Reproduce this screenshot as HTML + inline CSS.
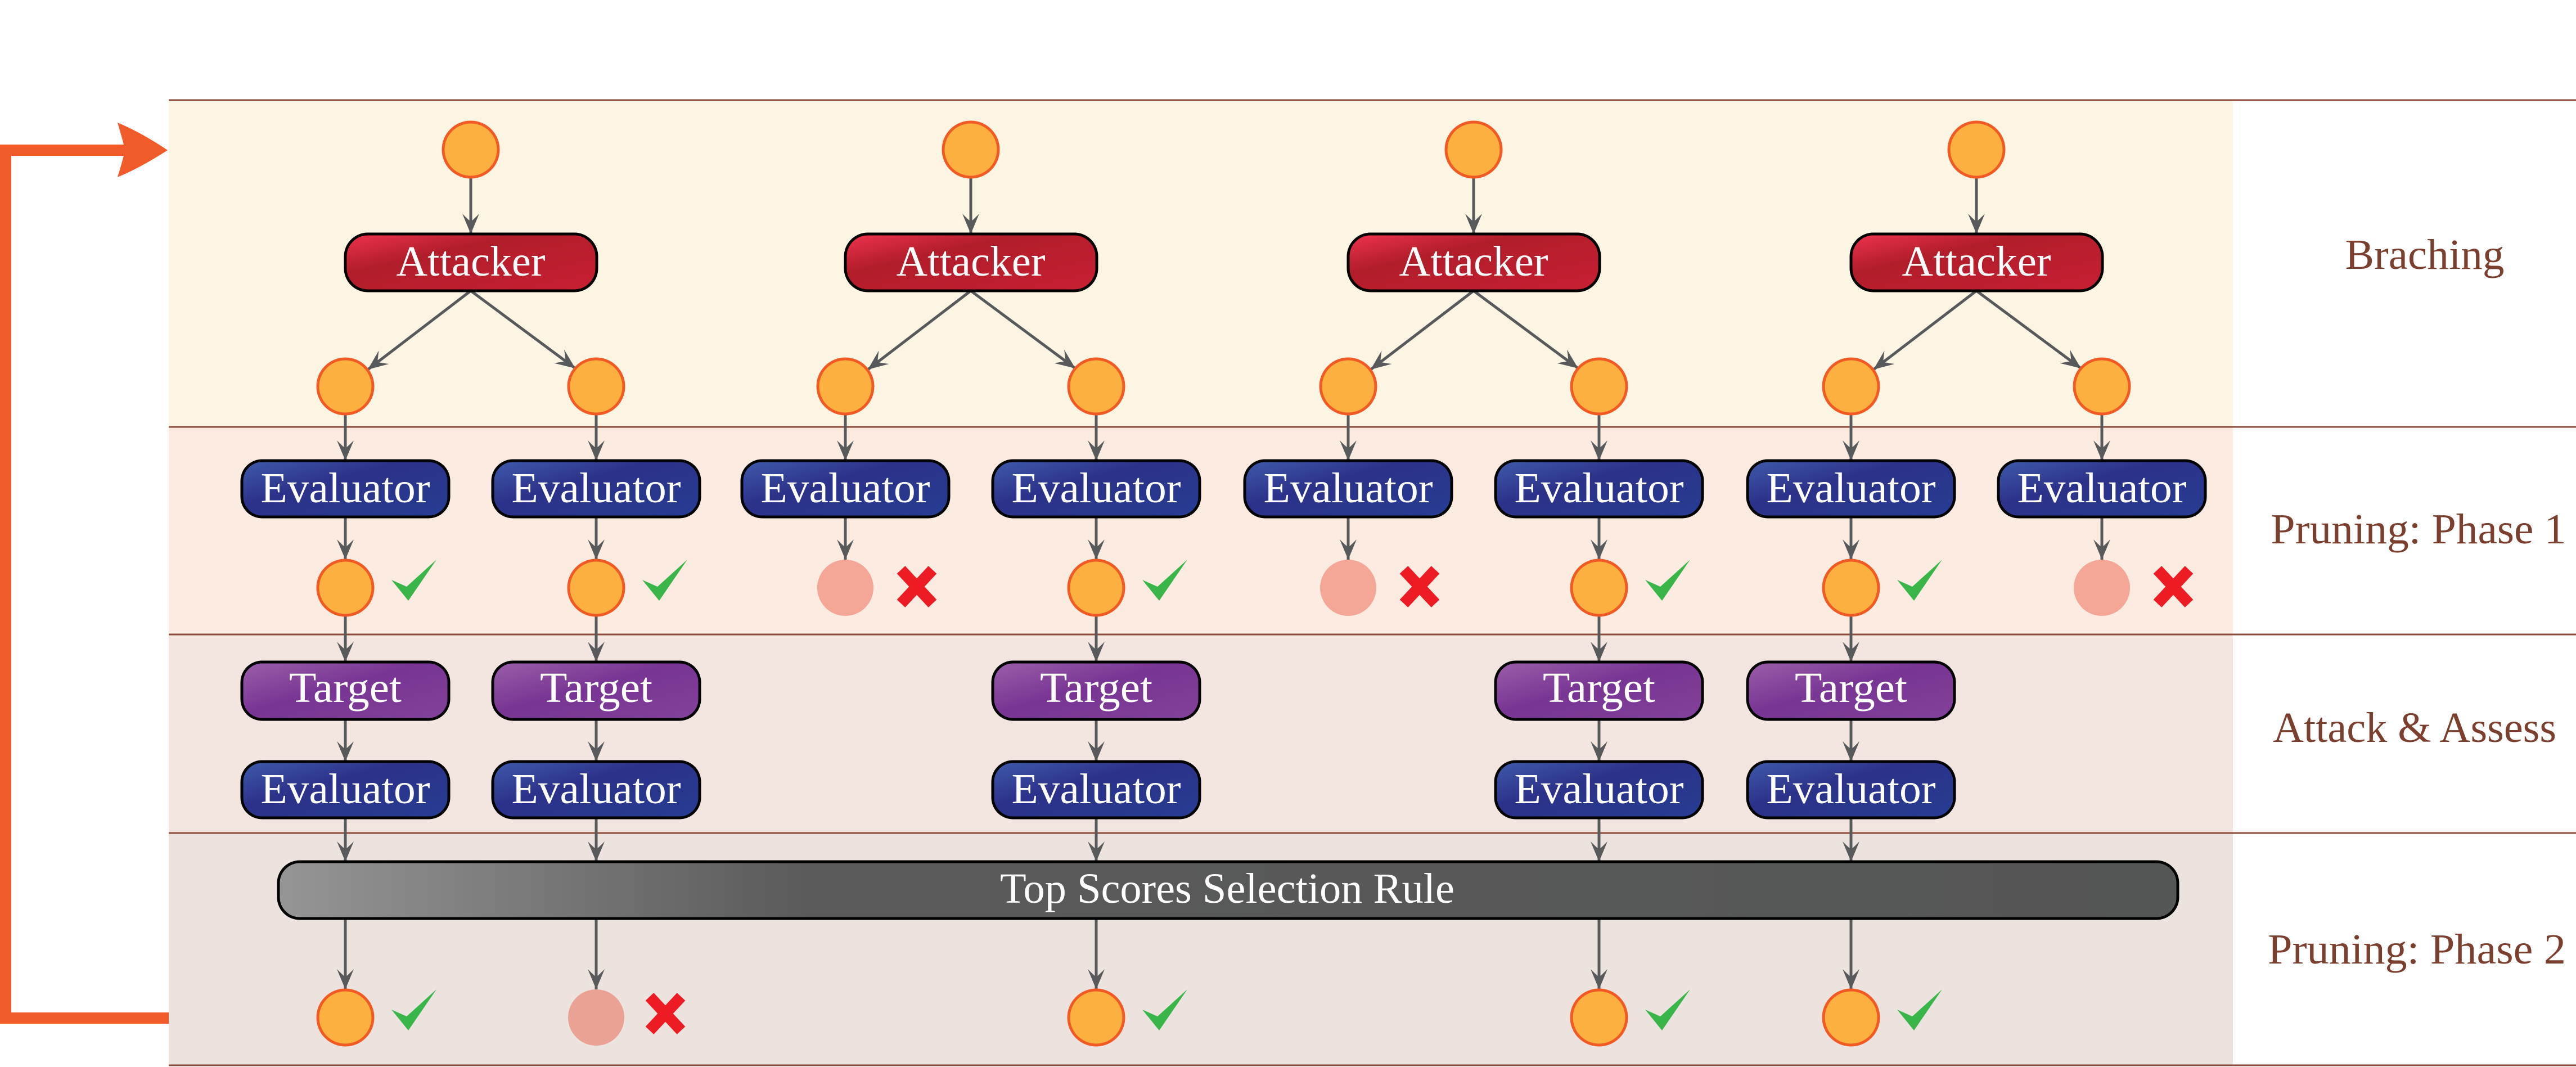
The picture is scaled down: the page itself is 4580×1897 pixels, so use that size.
<!DOCTYPE html>
<html><head><meta charset="utf-8"><style>
html,body{margin:0;padding:0;background:#fff;}
svg{display:block;}
svg text{font-family:"Liberation Serif","DejaVu Serif",serif;}
</style></head><body>
<svg width="4580" height="1897" viewBox="0 0 4580 1897" xmlns="http://www.w3.org/2000/svg">
<defs>
<linearGradient id="gR" x1="0" y1="0" x2="1" y2="1"><stop offset="0" stop-color="#ef334f"/><stop offset="0.35" stop-color="#b11d2a"/><stop offset="1" stop-color="#c81f33"/></linearGradient>
<linearGradient id="gB" x1="0" y1="0" x2="1" y2="1"><stop offset="0" stop-color="#3f5bab"/><stop offset="0.4" stop-color="#2c3189"/><stop offset="1" stop-color="#263d93"/></linearGradient>
<linearGradient id="gP" x1="0" y1="0" x2="1" y2="1"><stop offset="0" stop-color="#9b5fa9"/><stop offset="0.45" stop-color="#783594"/><stop offset="1" stop-color="#82419a"/></linearGradient>
<linearGradient id="gG" x1="0" y1="0" x2="1" y2="0"><stop offset="0" stop-color="#959595"/><stop offset="0.28" stop-color="#5a5a5a"/><stop offset="1" stop-color="#555656"/></linearGradient>
<marker id="ah" markerUnits="userSpaceOnUse" markerWidth="60" markerHeight="40" refX="0" refY="0" viewBox="-40 -20 44 40" orient="auto" overflow="visible">
<path d="M0,0 L-36,-15 Q-24,-3 -22,0 Q-24,3 -36,15 Z" fill="#58595b"/>
</marker>
</defs>
<rect x="300" y="178" width="3670" height="581" fill="#fdf5e4"/>
<rect x="300" y="759" width="3670" height="369" fill="#fbebe1"/>
<rect x="300" y="1128" width="3670" height="353" fill="#f3e5e0"/>
<rect x="300" y="1481" width="3670" height="413" fill="#ece3df"/>
<g stroke="#8b4a3a" stroke-width="3">
<line x1="300" y1="178" x2="4580" y2="178"/>
<line x1="300" y1="759" x2="4580" y2="759"/>
<line x1="300" y1="1128" x2="4580" y2="1128"/>
<line x1="300" y1="1481" x2="4580" y2="1481"/>
<line x1="300" y1="1894" x2="4580" y2="1894"/>
</g>
<path d="M300,1810 L10,1810 L10,267 L225,267" fill="none" stroke="#f15a29" stroke-width="20"/>
<path d="M298,267 Q250,235 209,218 Q222,262 222,267 Q222,272 209,315 Q250,298 298,267 Z" fill="#f15a29"/>
<g fill="#7b3f2f" font-size="76">
<text x="4311" y="478" text-anchor="middle" textLength="283" lengthAdjust="spacingAndGlyphs">Braching</text>
<text x="4300" y="966" text-anchor="middle" textLength="525" lengthAdjust="spacingAndGlyphs">Pruning: Phase 1</text>
<text x="4293" y="1319" text-anchor="middle" textLength="504" lengthAdjust="spacingAndGlyphs">Attack &amp; Assess</text>
<text x="4297" y="1713" text-anchor="middle" textLength="530" lengthAdjust="spacingAndGlyphs">Pruning: Phase 2</text>
</g>
<g stroke="#58595b" stroke-width="5" marker-end="url(#ah)">
<line x1="837" y1="316" x2="837" y2="416"/><line x1="1726" y1="316" x2="1726" y2="416"/><line x1="2620" y1="316" x2="2620" y2="416"/><line x1="3514" y1="316" x2="3514" y2="416"/>
<line x1="837" y1="517" x2="654" y2="657"/><line x1="837" y1="517" x2="1023" y2="655"/>
<line x1="1726" y1="517" x2="1543" y2="657"/><line x1="1726" y1="517" x2="1912" y2="655"/>
<line x1="2620" y1="517" x2="2437" y2="657"/><line x1="2620" y1="517" x2="2806" y2="655"/>
<line x1="3514" y1="517" x2="3331" y2="657"/><line x1="3514" y1="517" x2="3700" y2="655"/>
<line x1="614" y1="737" x2="614" y2="819"/><line x1="1060" y1="737" x2="1060" y2="819"/><line x1="1503" y1="737" x2="1503" y2="819"/><line x1="1949" y1="737" x2="1949" y2="819"/><line x1="2397" y1="737" x2="2397" y2="819"/><line x1="2843" y1="737" x2="2843" y2="819"/><line x1="3291" y1="737" x2="3291" y2="819"/><line x1="3737" y1="737" x2="3737" y2="819"/>
<line x1="614" y1="919" x2="614" y2="995"/><line x1="1060" y1="919" x2="1060" y2="995"/><line x1="1503" y1="919" x2="1503" y2="995"/><line x1="1949" y1="919" x2="1949" y2="995"/><line x1="2397" y1="919" x2="2397" y2="995"/><line x1="2843" y1="919" x2="2843" y2="995"/><line x1="3291" y1="919" x2="3291" y2="995"/><line x1="3737" y1="919" x2="3737" y2="995"/>
<line x1="614" y1="1095" x2="614" y2="1177"/><line x1="1060" y1="1095" x2="1060" y2="1177"/><line x1="1949" y1="1095" x2="1949" y2="1177"/><line x1="2843" y1="1095" x2="2843" y2="1177"/><line x1="3291" y1="1095" x2="3291" y2="1177"/>
<line x1="614" y1="1279" x2="614" y2="1354"/><line x1="1060" y1="1279" x2="1060" y2="1354"/><line x1="1949" y1="1279" x2="1949" y2="1354"/><line x1="2843" y1="1279" x2="2843" y2="1354"/><line x1="3291" y1="1279" x2="3291" y2="1354"/>
<line x1="614" y1="1454" x2="614" y2="1532"/><line x1="1060" y1="1454" x2="1060" y2="1532"/><line x1="1949" y1="1454" x2="1949" y2="1532"/><line x1="2843" y1="1454" x2="2843" y2="1532"/><line x1="3291" y1="1454" x2="3291" y2="1532"/>
<line x1="614" y1="1633" x2="614" y2="1759"/><line x1="1060" y1="1633" x2="1060" y2="1759"/><line x1="1949" y1="1633" x2="1949" y2="1759"/><line x1="2843" y1="1633" x2="2843" y2="1759"/><line x1="3291" y1="1633" x2="3291" y2="1759"/>
</g>
<g fill="#fbb040" stroke="#f15a24" stroke-width="5">
<circle cx="837" cy="266" r="49"/><circle cx="1726" cy="266" r="49"/><circle cx="2620" cy="266" r="49"/><circle cx="3514" cy="266" r="49"/>
<circle cx="614" cy="687" r="49"/><circle cx="1060" cy="687" r="49"/><circle cx="1503" cy="687" r="49"/><circle cx="1949" cy="687" r="49"/><circle cx="2397" cy="687" r="49"/><circle cx="2843" cy="687" r="49"/><circle cx="3291" cy="687" r="49"/><circle cx="3737" cy="687" r="49"/>
<circle cx="614" cy="1045" r="49"/><circle cx="1060" cy="1045" r="49"/><circle cx="1949" cy="1045" r="49"/><circle cx="2843" cy="1045" r="49"/><circle cx="3291" cy="1045" r="49"/>
<circle cx="614" cy="1809" r="49"/><circle cx="1949" cy="1809" r="49"/><circle cx="2843" cy="1809" r="49"/><circle cx="3291" cy="1809" r="49"/>
</g>
<g fill="#f5a797">
<circle cx="1503" cy="1045" r="50"/><circle cx="2397" cy="1045" r="50"/><circle cx="3737" cy="1045" r="50"/>
</g>
<circle cx="1060" cy="1809" r="50" fill="#e9a293"/>
<g fill="#39b54a">
<path transform="translate(614,1045)" d="M82,-14 L109,-2 L162,-50 L112,23 Z"/>
<path transform="translate(1060,1045)" d="M82,-14 L109,-2 L162,-50 L112,23 Z"/>
<path transform="translate(1949,1045)" d="M82,-14 L109,-2 L162,-50 L112,23 Z"/>
<path transform="translate(2843,1045)" d="M82,-14 L109,-2 L162,-50 L112,23 Z"/>
<path transform="translate(3291,1045)" d="M82,-14 L109,-2 L162,-50 L112,23 Z"/>
<path transform="translate(614,1809)" d="M82,-14 L109,-2 L162,-50 L112,23 Z"/>
<path transform="translate(1949,1809)" d="M82,-14 L109,-2 L162,-50 L112,23 Z"/>
<path transform="translate(2843,1809)" d="M82,-14 L109,-2 L162,-50 L112,23 Z"/>
<path transform="translate(3291,1809)" d="M82,-14 L109,-2 L162,-50 L112,23 Z"/>
</g>
<g stroke="#ed1c24" stroke-width="20">
<path d="M1602,1013 L1658,1073 M1658,1013 L1602,1073"/>
<path d="M2496,1013 L2552,1073 M2552,1013 L2496,1073"/>
<path d="M3836,1013 L3892,1073 M3892,1013 L3836,1073"/>
<path d="M1155,1772 L1211,1832 M1211,1772 L1155,1832"/>
</g>
<g fill="url(#gR)" stroke="#000" stroke-width="5">
<rect x="614" y="416" width="447" height="101" rx="40"/><rect x="1503" y="416" width="447" height="101" rx="40"/><rect x="2397" y="416" width="447" height="101" rx="40"/><rect x="3291" y="416" width="447" height="101" rx="40"/>
</g>
<g fill="url(#gB)" stroke="#000" stroke-width="5">
<rect x="430" y="819" width="368" height="100" rx="36"/><rect x="876" y="819" width="368" height="100" rx="36"/><rect x="1319" y="819" width="368" height="100" rx="36"/><rect x="1765" y="819" width="368" height="100" rx="36"/><rect x="2213" y="819" width="368" height="100" rx="36"/><rect x="2659" y="819" width="368" height="100" rx="36"/><rect x="3107" y="819" width="368" height="100" rx="36"/><rect x="3553" y="819" width="368" height="100" rx="36"/>
<rect x="430" y="1354" width="368" height="100" rx="36"/><rect x="876" y="1354" width="368" height="100" rx="36"/><rect x="1765" y="1354" width="368" height="100" rx="36"/><rect x="2659" y="1354" width="368" height="100" rx="36"/><rect x="3107" y="1354" width="368" height="100" rx="36"/>
</g>
<g fill="url(#gP)" stroke="#000" stroke-width="5">
<rect x="430" y="1177" width="368" height="102" rx="36"/><rect x="876" y="1177" width="368" height="102" rx="36"/><rect x="1765" y="1177" width="368" height="102" rx="36"/><rect x="2659" y="1177" width="368" height="102" rx="36"/><rect x="3107" y="1177" width="368" height="102" rx="36"/>
</g>
<rect x="495" y="1532" width="3377" height="101" rx="38" fill="url(#gG)" stroke="#000" stroke-width="5"/>
<g fill="#fff" font-size="76" text-anchor="middle">
<text x="837" y="490" textLength="265" lengthAdjust="spacingAndGlyphs">Attacker</text><text x="1726" y="490" textLength="265" lengthAdjust="spacingAndGlyphs">Attacker</text><text x="2620" y="490" textLength="265" lengthAdjust="spacingAndGlyphs">Attacker</text><text x="3514" y="490" textLength="265" lengthAdjust="spacingAndGlyphs">Attacker</text>
<text x="614" y="893" textLength="301" lengthAdjust="spacingAndGlyphs">Evaluator</text><text x="1060" y="893" textLength="301" lengthAdjust="spacingAndGlyphs">Evaluator</text><text x="1503" y="893" textLength="301" lengthAdjust="spacingAndGlyphs">Evaluator</text><text x="1949" y="893" textLength="301" lengthAdjust="spacingAndGlyphs">Evaluator</text><text x="2397" y="893" textLength="301" lengthAdjust="spacingAndGlyphs">Evaluator</text><text x="2843" y="893" textLength="301" lengthAdjust="spacingAndGlyphs">Evaluator</text><text x="3291" y="893" textLength="301" lengthAdjust="spacingAndGlyphs">Evaluator</text><text x="3737" y="893" textLength="301" lengthAdjust="spacingAndGlyphs">Evaluator</text>
<text x="614" y="1428" textLength="301" lengthAdjust="spacingAndGlyphs">Evaluator</text><text x="1060" y="1428" textLength="301" lengthAdjust="spacingAndGlyphs">Evaluator</text><text x="1949" y="1428" textLength="301" lengthAdjust="spacingAndGlyphs">Evaluator</text><text x="2843" y="1428" textLength="301" lengthAdjust="spacingAndGlyphs">Evaluator</text><text x="3291" y="1428" textLength="301" lengthAdjust="spacingAndGlyphs">Evaluator</text>
<text x="614" y="1248" textLength="200" lengthAdjust="spacingAndGlyphs">Target</text><text x="1060" y="1248" textLength="200" lengthAdjust="spacingAndGlyphs">Target</text><text x="1949" y="1248" textLength="200" lengthAdjust="spacingAndGlyphs">Target</text><text x="2843" y="1248" textLength="200" lengthAdjust="spacingAndGlyphs">Target</text><text x="3291" y="1248" textLength="200" lengthAdjust="spacingAndGlyphs">Target</text>
<text x="2182" y="1605" textLength="808" lengthAdjust="spacingAndGlyphs">Top Scores Selection Rule</text>
</g>
</svg>
</body></html>
